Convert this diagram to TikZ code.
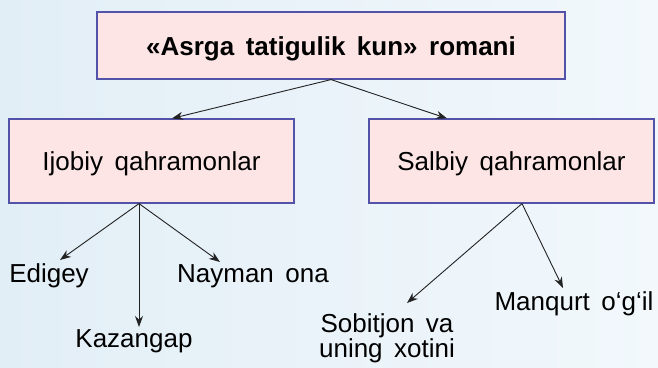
\documentclass[tikz,border=0pt]{standalone}
\usepackage{fontspec}
\setmainfont{Liberation Sans}
\usepackage{tikz}
\usetikzlibrary{calc,positioning,arrows.meta}

\definecolor{boxfill}{HTML}{FDE5E5}
\definecolor{boxline}{HTML}{5252A8}
\definecolor{bgleft}{HTML}{E2EEF6}
\definecolor{bgright}{HTML}{F2F8FC}
\definecolor{arrowcol}{HTML}{222222}

\newcommand{\chartfont}{\fontsize{26}{27}\selectfont\spaceskip=11.5pt\relax}

\tikzset{
	box/.style={draw=boxline, fill=boxfill, line width=1.2pt, inner sep=0pt,
		minimum width=285pt, minimum height=84pt, text height=19pt, text depth=0pt},
	lbl/.style={inner sep=0pt, anchor=base},
	link/.style={draw=arrowcol, line width=0.9pt, -{Stealth[length=11pt, width=8pt]}}
}

\begin{document}
\begin{tikzpicture}[x=1pt, y=-1pt, font=\chartfont]
	\shade [left color=bgleft, right color=bgright] (0,0) rectangle (658,367);
	\useasboundingbox (0,0) rectangle (658,367);

	% boxes
	\node (roman) [box, minimum width=468pt, minimum height=67pt] at (331,45.5) {\bfseries «Asrga tatigulik kun» romani};
	\node (ijobiy) [box] at (151.5,161) {Ijobiy qahramonlar};
	\node (salbiy) [box] at (511.5,161) {Salbiy qahramonlar};

	% characters
	\node (edigey) [lbl] at (49,282) {Edigey};
	\node (nayman) [lbl] at (253,282) {Nayman ona};
	\node (kazangap) [lbl] at (134,347) {Kazangap};
	\node (sobitjon) [inner sep=0pt, align=center, anchor=north] at (387,313) {Sobitjon va\\[-2pt]uning xotini};
	\node (manqurt) [lbl] at (574,310) {Manqurt o‘g‘il};

	\draw [link] (roman.south) -- ([xshift=20.5pt]ijobiy.north);
	\draw [link] (roman.south) -- ([xshift=-64.5pt]salbiy.north);

	\draw [link] ([xshift=-12.5pt]ijobiy.south) -- ([shift={(11,-22)}]edigey.base);
	\draw [link] ([xshift=-12.5pt]ijobiy.south) -- ([shift={(5,-20)}]kazangap.base);
	\draw [link] ([xshift=-12.5pt]ijobiy.south) -- ([shift={(-33,-20)}]nayman.base);

	\draw [link] ([xshift=10.5pt]salbiy.south) -- ([shift={(20,-10)}]sobitjon.north);
	\draw [link] ([xshift=10.5pt]salbiy.south) -- ([shift={(-11,-22)}]manqurt.base);
\end{tikzpicture}
\end{document}
